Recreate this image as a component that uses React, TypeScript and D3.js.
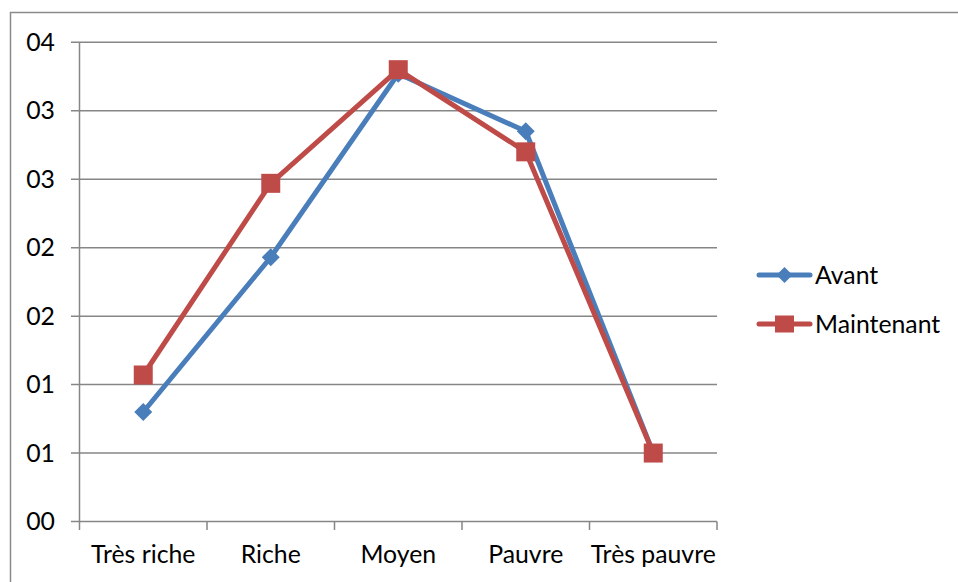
import React from "react";
import * as d3 from "d3";

const categories = ["Très riche", "Riche", "Moyen", "Pauvre", "Très pauvre"];
const avant = [0.8, 1.93, 3.27, 2.85, 0.5];
const maintenant = [1.07, 2.47, 3.3, 2.7, 0.5];
const yTicks = [0, 0.5, 1, 1.5, 2, 2.5, 3, 3.5];
const yTickLabels = ["00", "01", "01", "02", "02", "03", "03", "04"];
const seriesNames = ["Avant", "Maintenant"];

const W = 958;
const H = 582;
const FONT = "Lato, 'Liberation Sans', sans-serif";
const FS = 24.8;
const BLUE = "#4A7EBB";
const RED = "#BE4B48";
const GRID = "#868686";

export default function App() {
  const x = d3.scaleBand<string>().domain(categories).range([79.5, 717]).padding(0);
  const y = d3.scaleLinear().domain([0, 3.5]).range([521.5, 42.3]);
  const line = d3
    .line<number>()
    .x((_, i) => (x(categories[i]) as number) + x.bandwidth() / 2)
    .y((d) => y(d));

  const diamond = (cx: number, cy: number, s: number) =>
    `M${cx},${cy - s} L${cx + s},${cy} L${cx},${cy + s} L${cx - s},${cy} Z`;

  const bounds = [...categories.map((c) => x(c) as number), 717];

  return (
    <svg
      width={W}
      height={H}
      style={{ position: "absolute", left: 0, top: 0, background: "#fff" }}
      fontFamily={FONT}
    >
      <rect x={10.5} y={12.5} width={W + 20} height={H + 20} fill="#fff" stroke="#8a8a8a" strokeWidth={1.5} />
      {yTicks.map((t, i) => (
        <g key={i}>
          <line x1={71} x2={717} y1={y(t)} y2={y(t)} stroke={GRID} strokeWidth={1.5} />
          <text x={55} y={y(t)} dy="0.35em" textAnchor="end" fontSize={FS} fill="#000">
            {yTickLabels[i]}
          </text>
        </g>
      ))}
      <line x1={79.5} x2={79.5} y1={42.3} y2={521.5} stroke={GRID} strokeWidth={1.5} />
      {bounds.map((b, i) => (
        <line key={i} x1={b} x2={b} y1={521.5} y2={530} stroke={GRID} strokeWidth={1.5} />
      ))}
      {categories.map((c) => (
        <text
          key={c}
          x={(x(c) as number) + x.bandwidth() / 2}
          y={563}
          textAnchor="middle"
          fontSize={FS}
          fill="#000"
        >
          {c}
        </text>
      ))}
      <path d={line(avant) || ""} fill="none" stroke={BLUE} strokeWidth={5} strokeLinejoin="round" strokeLinecap="round" />
      {avant.map((v, i) => (
        <path key={i} d={diamond((x(categories[i]) as number) + x.bandwidth() / 2, y(v), 9)} fill={BLUE} />
      ))}
      <path d={line(maintenant) || ""} fill="none" stroke={RED} strokeWidth={5} strokeLinejoin="round" strokeLinecap="round" />
      {maintenant.map((v, i) => {
        const cx = (x(categories[i]) as number) + x.bandwidth() / 2;
        return <rect key={i} x={cx - 9.5} y={y(v) - 9.5} width={19} height={19} fill={RED} />;
      })}
      <g>
        <line x1={759} x2={810} y1={275} y2={275} stroke={BLUE} strokeWidth={5} strokeLinecap="round" />
        <path d={diamond(784.5, 275, 8)} fill={BLUE} />
        <text x={815} y={275} dy="0.35em" fontSize={FS} fill="#000">
          {seriesNames[0]}
        </text>
        <line x1={759} x2={810} y1={324} y2={324} stroke={RED} strokeWidth={5} strokeLinecap="round" />
        <rect x={775} y={315.5} width={19} height={17} fill={RED} />
        <text x={815} y={324} dy="0.35em" fontSize={FS} fill="#000">
          {seriesNames[1]}
        </text>
      </g>
    </svg>
  );
}
